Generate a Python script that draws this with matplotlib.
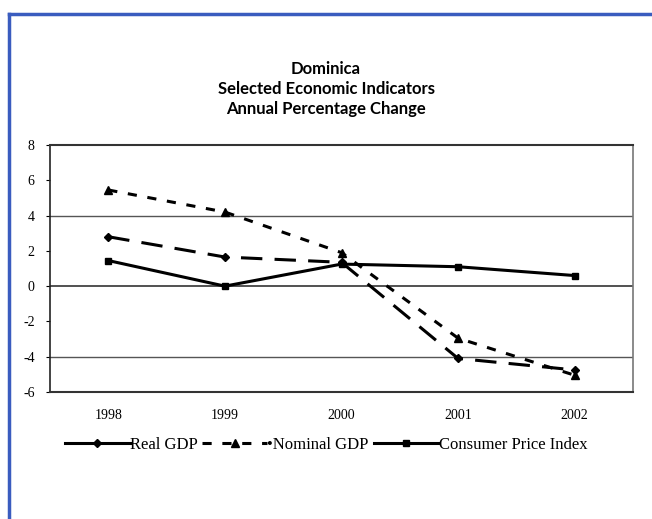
import numpy as np
import matplotlib
matplotlib.use('Agg')
import matplotlib.pyplot as plt
from matplotlib.lines import Line2D

plt.rcParams['axes.unicode_minus'] = False

# Datos
anios = ['1998', '1999', '2000', '2001', '2002']
real_gdp = [2.8, 1.65, 1.35, -4.1, -4.75]
nominal_gdp = [5.45, 4.2, 1.9, -2.95, -5.05]
cpi = [1.45, 0.0, 1.25, 1.1, 0.6]
yticks = [8, 6, 4, 2, 0, -2, -4, -6]
etiquetas = ['Real GDP', '•Nominal GDP', 'Consumer Price Index']

fig = plt.figure(figsize=(6.52, 5.19), dpi=100)

# Borde azul arriba e izquierda
fig.add_artist(Line2D([9/652, 1], [1 - 14/519, 1 - 14/519], color='#3a5cbf', lw=2.5))
fig.add_artist(Line2D([9/652, 9/652], [0, 1 - 14/519], color='#3a5cbf', lw=2.5))

ax = fig.add_axes([50/652, 1 - 392/519, 583/652, 247/519])
x = np.arange(len(anios))

l1, = ax.plot(x, real_gdp, color='black', lw=2.2, dashes=(7, 4), marker='D', ms=4)
l2, = ax.plot(x, nominal_gdp, color='black', lw=2.2, dashes=(3, 3.5), marker='^', ms=6)
l3, = ax.plot(x, cpi, color='black', lw=2.2, marker='s', ms=5)

ax.set_xlim(-0.5, 4.5)
ax.set_ylim(-6, 8)
ax.set_yticks(yticks)
ax.set_xticks(x)
ax.set_xticklabels(anios)
for g in [4, -4]:
    ax.axhline(g, color='#555555', lw=1, zorder=0)
ax.axhline(0, color='#333333', lw=1.2, zorder=0)

for s in ['top', 'bottom']:
    ax.spines[s].set_color('#333333')
    ax.spines[s].set_linewidth(1.5)
for s in ['left', 'right']:
    ax.spines[s].set_color('#777777')
    ax.spines[s].set_linewidth(1.2)
ax.spines['left'].set_color('#222222')

ax.tick_params(axis='x', length=0, pad=12, labelsize=10)
ax.tick_params(axis='y', length=3, pad=8, labelsize=10)
for lbl in ax.get_xticklabels() + ax.get_yticklabels():
    lbl.set_family('Liberation Serif')

fig.text(0.5, 1 - 89/519, 'Dominica\nSelected Economic Indicators\nAnnual Percentage Change',
         ha='center', va='center', fontsize=12, fontweight='bold', family='Lato',
         linespacing=1.3)

# en la leyenda la linea de Real GDP se ve continua
h1 = Line2D([], [], color='black', lw=2.2, marker='D', ms=4)
leg = ax.legend([h1, l2, l3], etiquetas, loc='center', bbox_to_anchor=(326/652, 1 - 445/519),
                bbox_transform=fig.transFigure, ncol=3, frameon=False, handlelength=3.9,
                handletextpad=0.0, columnspacing=0.3,
                prop={'family': 'Liberation Serif', 'size': 12})

fig.savefig('out.png', dpi=100)
